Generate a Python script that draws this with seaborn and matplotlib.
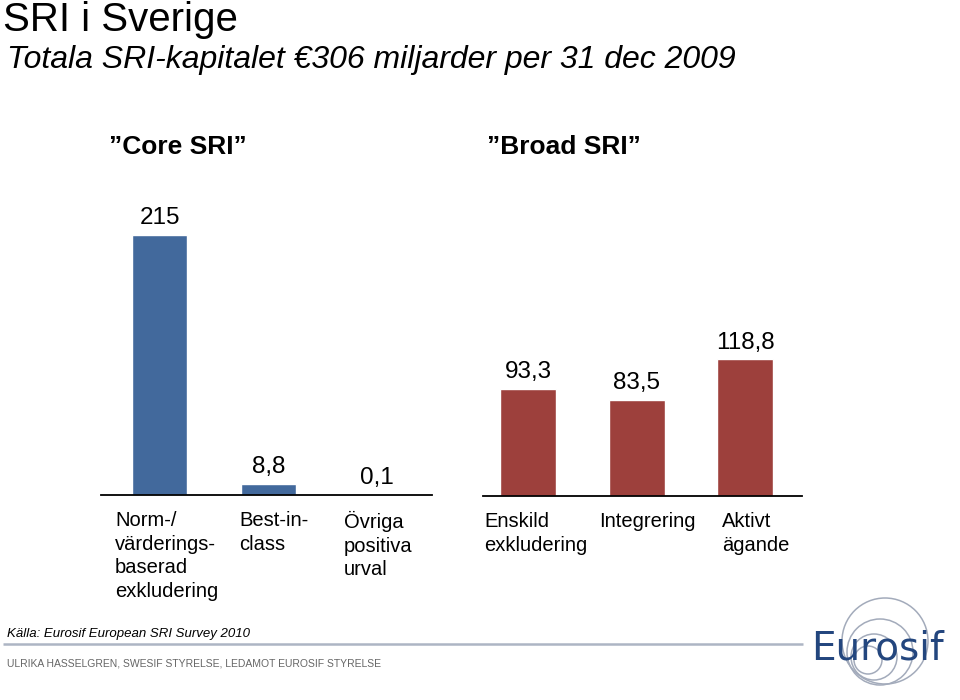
import matplotlib
matplotlib.use("Agg")
import matplotlib.pyplot as plt
import matplotlib.transforms as mtransforms
from matplotlib.patches import Circle
import seaborn as sns
import pandas as pd

# ---- data ----
core_categories = ["Norm-/\nvärderings-\nbaserad\nexkludering", "Best-in-\nclass", "Övriga\npositiva\nurval"]
core_values = [215, 8.8, 0.1]
broad_categories = ["Enskild\nexkludering", "Integrering", "Aktivt\nägande"]
broad_values = [93.3, 83.5, 118.8]
group_titles = ["”Core SRI”", "”Broad SRI”"]
title = "SRI i Sverige"
subtitle = "Totala SRI-kapitalet €306 miljarder per 31 dec 2009"
source = "Källa: Eurosif European SRI Survey 2010"
author = "ULRIKA HASSELGREN, SWESIF STYRELSE, LEDAMOT EUROSIF STYRELSE"

BLUE = "#42699c"
RED = "#9d403c"

sns.set_theme(style="white")
plt.rcParams["font.family"] = ["Liberation Sans", "DejaVu Sans"]
plt.rcParams["text.color"] = "black"
plt.rcParams["xtick.color"] = "black"
plt.rcParams["xtick.labelcolor"] = "black"

W, H = 960, 700
fig = plt.figure(figsize=(W / 100, H / 100), dpi=100)


def px_rect(x0, x1, ybot, ytop):
    return [x0 / W, 1 - ybot / H, (x1 - x0) / W, (ybot - ytop) / H]


def fmt(v):
    return f"{v:g}".replace(".", ",")


def panel(rect, cats, vals, color, xlim, ytop, width, offsets):
    ax = fig.add_axes(rect)
    df = pd.DataFrame({"cat": cats, "val": vals})
    sns.barplot(data=df, x="cat", y="val", color=color, saturation=1,
                width=width, ax=ax, order=cats)
    ax.set_xlim(*xlim)
    ax.set_ylim(0, ytop)
    ax.set_xlabel("")
    ax.set_ylabel("")
    ax.set_yticks([])
    for s in ["top", "left", "right"]:
        ax.spines[s].set_visible(False)
    ax.spines["bottom"].set_color("black")
    ax.spines["bottom"].set_linewidth(1.3)
    ax.tick_params(axis="x", length=0, pad=12, colors="black")
    ax.set_xticks(range(len(cats)))
    ax.set_xticklabels(cats, fontsize=14.5, linespacing=1.3, color="black")
    for lab, dx in zip(ax.get_xticklabels(), offsets):
        off = mtransforms.ScaledTranslation(dx / 100, 0, fig.dpi_scale_trans)
        lab.set_multialignment("left")
        lab.set_transform(lab.get_transform() + off)
    ax.bar_label(ax.containers[0], labels=[fmt(v) for v in vals],
                 padding=4, fontsize=17.5, color="black")
    return ax


ax1 = panel(px_rect(101, 432, 494.5, 190), core_categories, core_values, BLUE,
            (-0.538, 2.506), 304.5 / 1.209, 0.506, [7, 6, 1])
ax2 = panel(px_rect(483, 802, 495.5, 190), broad_categories, broad_values, RED,
            (-0.415, 2.525), 305.5 / 1.146, 0.516, [8, 11, 11])

# titles
fig.text(3 / W, 1 - 31 / H, title, fontsize=29, va="baseline", ha="left")
fig.text(7 / W, 1 - 68 / H, subtitle, fontsize=23, style="italic",
         va="baseline", ha="left")
fig.text(177.5 / W, 1 - 154 / H, group_titles[0], fontsize=19,
         fontweight="bold", ha="center", va="baseline")
fig.text(563.5 / W, 1 - 154 / H, group_titles[1], fontsize=19,
         fontweight="bold", ha="center", va="baseline")

# footer overlay
ov = fig.add_axes([0, 0, 1, 1], zorder=-1)
ov.set_xlim(0, W)
ov.set_ylim(H, 0)
ov.axis("off")
ov.plot([3, 803], [644, 644], color="#adb5c4", lw=1.8, solid_capstyle="butt")
fig.text(7 / W, 1 - 637 / H, source, fontsize=9.5, style="italic",
         va="baseline", ha="left")
fig.text(7 / W, 1 - 667 / H, author, fontsize=7.5, color="#666666",
         va="baseline", ha="left")

# logo
for (cx, cy, r) in [(885, 641, 43), (880, 652, 33), (874, 657, 23), (868, 660, 14)]:
    ov.add_patch(Circle((cx, cy), r, fill=False, edgecolor="#a3abbb", lw=1.1))
fig.text(811 / W, 1 - 660 / H, "Eurosif", fontsize=28, color="#23467e",
         family=["DejaVu Sans"], va="baseline", ha="left")

fig.savefig("out.png", dpi=100)
